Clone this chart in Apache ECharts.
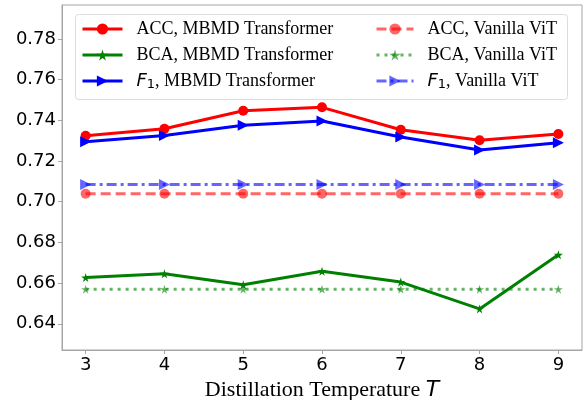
<!DOCTYPE html>
<html>
<head>
<meta charset="utf-8">
<script src="https://cdn.jsdelivr.net/npm/echarts@6/dist/echarts.min.js"></script>
<style>
  html, body { margin: 0; padding: 0; background: #fff; }
  #main { width: 588px; height: 400px; }
</style>
</head>
<body>
<div id="main"></div>
<script>
// data
var temps = [3, 4, 5, 6, 7, 8, 9];
var accMbmd = [0.7324, 0.7359, 0.7447, 0.7464, 0.7354, 0.7302, 0.7333];
var bcaMbmd = [0.6627, 0.6646, 0.6592, 0.6658, 0.6605, 0.6473, 0.6739];
var f1Mbmd  = [0.7295, 0.7326, 0.7376, 0.7397, 0.7318, 0.7254, 0.7290];
var accVit = [0.7039, 0.7039, 0.7039, 0.7039, 0.7039, 0.7039, 0.7039];
var bcaVit = [0.6570, 0.6570, 0.6570, 0.6570, 0.6570, 0.6570, 0.6570];
var f1Vit  = [0.7085, 0.7085, 0.7085, 0.7085, 0.7085, 0.7085, 0.7085];
var yTicks = [0.64, 0.66, 0.68, 0.70, 0.72, 0.74, 0.76, 0.78];
var xTicks = [3, 4, 5, 6, 7, 8, 9];

var STAR = 'path://M50,0 L61,35 L98,35 L68,57 L79,91 L50,70 L21,91 L32,57 L2,35 L39,35 Z';
var GRAY = '#a6a6a6';

function pairs(ys) {
    return temps.map(function (t, i) { return [t, ys[i]]; });
}

function mkSeries(name, ys, color, sym, size, rot, dash, alpha) {
    return {
        name: name,
        type: 'line',
        data: pairs(ys),
        symbol: sym,
        symbolSize: size,
        symbolRotate: rot,
        showAllSymbol: true,
        itemStyle: { color: color, opacity: alpha },
        lineStyle: { color: color, width: 3, type: dash, opacity: alpha },
        emphasis: { disabled: true },
        animation: false
    };
}

var legendText = {
    fontFamily: 'Liberation Serif',
    fontSize: 18,
    color: '#000',
    padding: [0, 0, 0, 9],
    rich: {
        t: { fontFamily: 'Liberation Serif', fontSize: 18, color: '#000' },
        f: { fontFamily: 'DejaVu Sans', fontStyle: 'italic', fontSize: 18, color: '#000' },
        s: { fontFamily: 'DejaVu Sans', fontSize: 13, color: '#000', padding: [8, 0, 0, 0] }
    }
};
function legendFmt(name) {
    if (name.indexOf('F1') === 0) return '{f|F}{s|1}{t|' + name.slice(2) + '}';
    return '{t|' + name + '}';
}

var chart = echarts.init(document.getElementById('main'));

var option = {
    backgroundColor: '#fff',
    animation: false,
    grid: {
        left: 62, right: 6, top: 5, bottom: 50,
        containLabel: false,
        outerBoundsMode: 'none',
        show: true,
        borderColor: GRAY,
        borderWidth: 1
    },
    graphic: [{
        type: 'rect',
        z: 50,
        shape: { x: 75.5, y: 14.5, width: 492, height: 85, r: 3 },
        style: { fill: 'rgba(255,255,255,0.8)', stroke: '#dcdcdc', lineWidth: 1 }
    }],
    legend: [{
        orient: 'vertical',
        left: 81, top: 20,
        padding: 0,
        itemWidth: 40, itemHeight: 14, itemGap: 8,
        z: 60,
        lineStyle: { width: 3 },
        data: ['ACC, MBMD Transformer', 'BCA, MBMD Transformer', 'F1, MBMD Transformer'],
        formatter: legendFmt,
        textStyle: legendText
    }, {
        orient: 'vertical',
        left: 375, top: 20,
        padding: 0,
        itemWidth: 37, itemHeight: 14, itemGap: 8,
        z: 60,
        lineStyle: { width: 3 },
        data: ['ACC, Vanilla ViT', 'BCA, Vanilla ViT', 'F1, Vanilla ViT'],
        formatter: legendFmt,
        textStyle: legendText
    }],
    xAxis: {
        type: 'value',
        min: 2.7, max: 9.3,
        name: '{a|Distillation Temperature }{b|T}',
        nameLocation: 'middle',
        nameGap: 26,
        nameTextStyle: {
            rich: {
                a: { fontFamily: 'Liberation Serif', fontSize: 22, color: '#000' },
                b: { fontFamily: 'DejaVu Sans', fontStyle: 'italic', fontSize: 22, color: '#000' }
            }
        },
        splitLine: { show: false },
        axisLine: { show: true, onZero: false, lineStyle: { color: GRAY, width: 1 } },
        axisTick: { show: true, length: 4, customValues: xTicks, lineStyle: { color: GRAY } },
        axisLabel: {
            customValues: xTicks,
            margin: 6,
            fontFamily: 'DejaVu Sans', fontSize: 18, color: '#000'
        }
    },
    yAxis: {
        type: 'value',
        min: 0.6271, max: 0.7967,
        splitLine: { show: false },
        axisLine: { show: true, onZero: false, lineStyle: { color: GRAY, width: 1 } },
        axisTick: { show: true, length: 4, customValues: yTicks, lineStyle: { color: GRAY } },
        axisLabel: {
            customValues: yTicks,
            margin: 6,
            fontFamily: 'DejaVu Sans', fontSize: 18, color: '#000',
            formatter: function (v) { return v.toFixed(2); }
        }
    },
    series: [
        mkSeries('ACC, MBMD Transformer', accMbmd, '#ff0000', 'circle', 10, 0, 'solid', 1),
        mkSeries('BCA, MBMD Transformer', bcaMbmd, '#008000', STAR, 9, 0, 'solid', 1),
        mkSeries('F1, MBMD Transformer', f1Mbmd, '#0000ff', 'triangle', 11, -90, 'solid', 1),
        mkSeries('ACC, Vanilla ViT', accVit, '#ff0000', 'circle', 10, 0, [10, 5], 0.6),
        mkSeries('BCA, Vanilla ViT', bcaVit, '#008000', STAR, 9, 0, [3, 5], 0.6),
        mkSeries('F1, Vanilla ViT', f1Vit, '#0000ff', 'triangle', 11, -90, [10, 4, 3, 4], 0.6)
    ]
};

chart.setOption(option);
</script>
</body>
</html>
